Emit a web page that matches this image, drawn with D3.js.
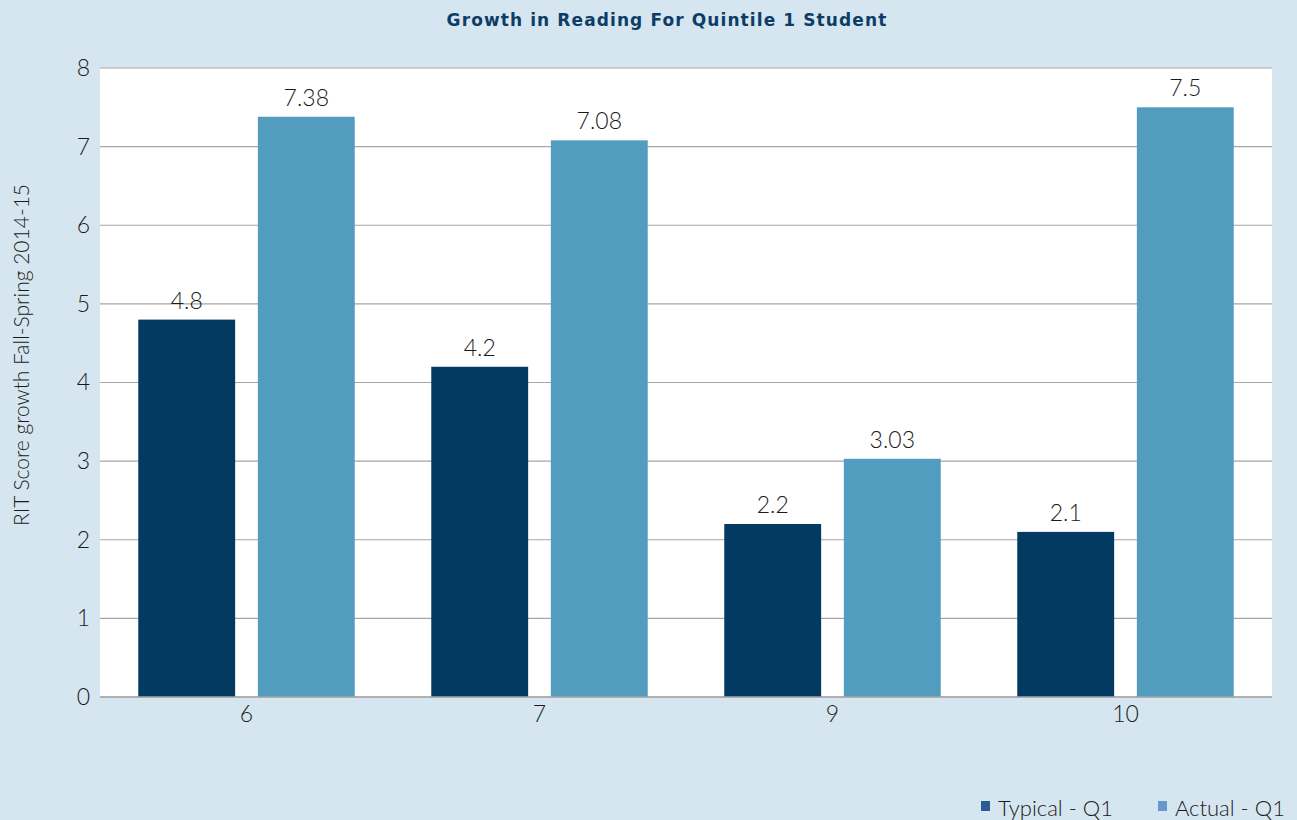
<!DOCTYPE html>
<html>
<head>
<meta charset="utf-8">
<script src="https://cdn.jsdelivr.net/npm/d3@7"></script>
<style>
  html, body { margin: 0; padding: 0; background: #d6e6f0; }
  svg { display: block; }
  text { font-family: Lato, "Open Sans", sans-serif; }
</style>
</head>
<body>
<svg id="chart" width="1297" height="820"></svg>
<script>
// Grade levels and growth values
const grades = ["6", "7", "9", "10"];
const typicalQ1 = [4.8, 4.2, 2.2, 2.1];
const actualQ1 = [7.38, 7.08, 3.03, 7.5];
const seriesNames = ["Typical - Q1", "Actual - Q1"];
const yTicks = [0, 1, 2, 3, 4, 5, 6, 7, 8];

const barColors = ["#033a62", "#529dbf"];
const legendColors = ["#2b5d93", "#6599cc"];

const W = 1297, H = 820;
const margin = { left: 100, right: 25, top: 68, bottom: 123 };
const svg = d3.select("#chart");

const x0 = d3.scaleBand().domain(grades).range([margin.left, W - margin.right]);
const x1 = d3.scaleBand().domain(seriesNames).range([0, x0.bandwidth()]).paddingInner(0.19).paddingOuter(0.32);
const y = d3.scaleLinear().domain([0, 8]).range([H - margin.bottom, margin.top]);

// Title
svg.append("text")
  .attr("x", 667).attr("y", 26)
  .attr("text-anchor", "middle")
  .attr("font-size", 17).attr("font-weight", 700)
  .attr("letter-spacing", 1.1)
  .attr("fill", "#0d3d66")
  .style("font-family", "'DejaVu Sans', sans-serif")
  .text("Growth in Reading For Quintile 1 Student");

// Plot background
svg.append("rect")
  .attr("x", margin.left).attr("y", margin.top)
  .attr("width", W - margin.right - margin.left)
  .attr("height", y(0) - margin.top)
  .attr("fill", "#ffffff");

// Gridlines
svg.append("g").selectAll("line").data(yTicks).join("line")
  .attr("x1", margin.left).attr("x2", W - margin.right)
  .attr("y1", d => y(d)).attr("y2", d => y(d))
  .attr("stroke", "#a6a6a6").attr("stroke-width", 1.2);

// Y axis labels
const yAxis = d3.axisLeft(y).tickValues(yTicks).tickSize(0).tickPadding(10);
const gy = svg.append("g").attr("transform", `translate(${margin.left},0)`).call(yAxis);
gy.select(".domain").remove();
gy.selectAll("text").attr("font-size", 23).attr("font-weight", 300).attr("fill", "#1a1a1a")
  .style("font-family", "Lato, sans-serif");

// X axis labels
const xAxis = d3.axisBottom(x0).tickSize(0).tickPadding(9);
const gx = svg.append("g").attr("transform", `translate(0,${y(0)})`).call(xAxis);
gx.select(".domain").remove();
gx.selectAll("text").attr("font-size", 23).attr("font-weight", 300).attr("fill", "#1a1a1a")
  .style("font-family", "Lato, sans-serif");

// Bars
const rows = grades.map((g, i) => ({ grade: g, vals: [typicalQ1[i], actualQ1[i]] }));
const groups = svg.append("g").selectAll("g").data(rows).join("g")
  .attr("transform", d => `translate(${x0(d.grade)},0)`);

groups.selectAll("rect").data(d => d.vals.map((v, k) => ({ v, k }))).join("rect")
  .attr("x", d => x1(seriesNames[d.k]))
  .attr("width", x1.bandwidth())
  .attr("y", d => y(d.v))
  .attr("height", d => y(0) - y(d.v))
  .attr("fill", d => barColors[d.k]);

groups.selectAll("text.val").data(d => d.vals.map((v, k) => ({ v, k }))).join("text")
  .attr("class", "val")
  .attr("x", d => x1(seriesNames[d.k]) + x1.bandwidth() / 2)
  .attr("y", d => y(d.v) - 11)
  .attr("text-anchor", "middle")
  .attr("font-size", 23).attr("font-weight", 300).attr("fill", "#1a1a1a")
  .text(d => String(d.v));

// Axis baseline
svg.append("line")
  .attr("x1", margin.left).attr("x2", W - margin.right)
  .attr("y1", y(0)).attr("y2", y(0))
  .attr("stroke", "#a6a6a6").attr("stroke-width", 1.5);

// Y axis title
svg.append("text")
  .attr("transform", `translate(29,355) rotate(-90)`)
  .attr("text-anchor", "middle")
  .attr("font-size", 21).attr("font-weight", 300).attr("fill", "#1a1a1a")
  .text("RIT Score growth Fall-Spring 2014-15");

// Legend
const legendX = [981, 1158];
const lg = svg.append("g").selectAll("g").data(seriesNames).join("g")
  .attr("transform", (d, i) => `translate(${legendX[i]},0)`);
lg.append("rect").attr("x", 0).attr("y", 801).attr("width", 9).attr("height", 10)
  .attr("fill", (d, i) => legendColors[i]);
lg.append("text").attr("x", 17).attr("y", 816)
  .attr("font-size", 22).attr("font-weight", 300).attr("fill", "#1a1a1a")
  .text(d => d);
</script>
</body>
</html>
